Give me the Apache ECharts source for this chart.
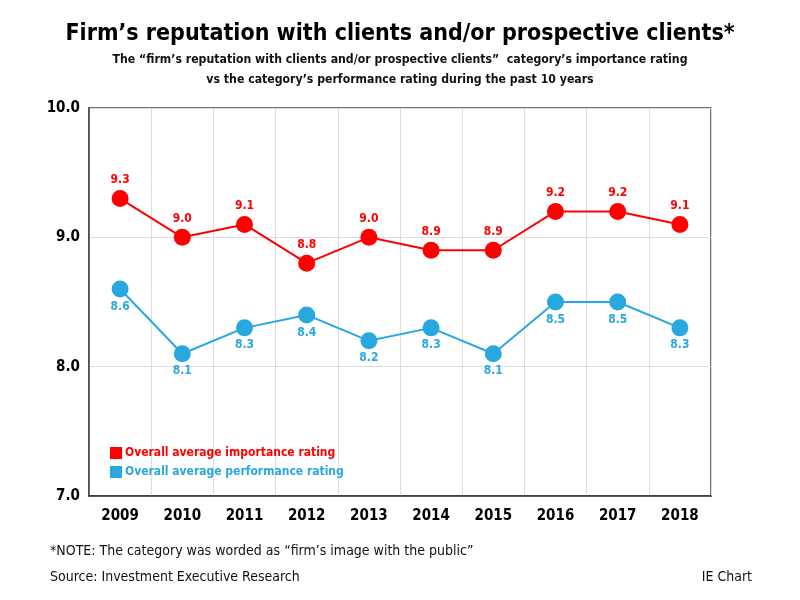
<!DOCTYPE html>
<html><head><meta charset="utf-8">
<script src="https://cdn.jsdelivr.net/npm/echarts@6/dist/echarts.min.js"></script>
<style>html,body{margin:0;padding:0;background:#fff}#c{width:800px;height:600px}</style>
</head><body><div id="c"></div>
<script>
const years = ['2009','2010','2011','2012','2013','2014','2015','2016','2017','2018'];
const importance = [9.3, 9.0, 9.1, 8.8, 9.0, 8.9, 8.9, 9.2, 9.2, 9.1];
const performance = [8.6, 8.1, 8.3, 8.4, 8.2, 8.3, 8.1, 8.5, 8.5, 8.3];
const seriesNames = ['Overall average importance rating', 'Overall average performance rating'];
const RED = '#ff0000', BLUE = '#29a8df';
const FONT = "'DejaVu Sans Condensed', 'Liberation Sans Narrow', sans-serif";

const chart = echarts.init(document.getElementById('c'));
chart.setOption({
  animation: false,
  backgroundColor: '#fff',
  textStyle: { fontFamily: FONT },
  title: [
    { text: "Firm\u2019s reputation with clients and/or prospective clients*", left: 'center', top: 18,
      textStyle: { fontFamily: FONT, fontSize: 23, fontWeight: 'bold', color: '#000' } },
    { text: "The \u201cfirm\u2019s reputation with clients and/or prospective clients\u201d  category\u2019s importance rating\nvs the category\u2019s performance rating during the past 10 years",
      left: 'center', top: 45,
      textStyle: { fontFamily: FONT, fontSize: 12.2, fontWeight: 'bold', color: '#111', lineHeight: 20, align: 'center' } },
    { text: "*NOTE: The category was worded as \u201cfirm\u2019s image with the public\u201d", left: 45, top: 539,
      textStyle: { fontFamily: FONT, fontSize: 14, fontWeight: 'normal', color: '#111' } },
    { text: "Source: Investment Executive Research", left: 45, top: 565,
      textStyle: { fontFamily: FONT, fontSize: 14, fontWeight: 'normal', color: '#111' } },
    { text: "IE Chart", right: 43, top: 565,
      textStyle: { fontFamily: FONT, fontSize: 14, fontWeight: 'normal', color: '#111' } }
  ],
  legend: {
    left: 105, top: 442, orient: 'vertical', itemGap: 7, itemWidth: 12, itemHeight: 12,
    icon: 'rect',
    data: [
      { name: seriesNames[0], textStyle: { color: RED } },
      { name: seriesNames[1], textStyle: { color: BLUE } }
    ],
    textStyle: { fontFamily: FONT, fontSize: 12, fontWeight: 'bold', padding: [0,0,0,-2] }
  },
  grid: { left: 89, right: 89, top: 108, bottom: 104, show: true, borderColor: '#444', borderWidth: 1.5 },
  xAxis: {
    type: 'category', data: years, boundaryGap: true,
    axisLine: { lineStyle: { color: '#333', width: 1.5 } },
    axisTick: { show: false },
    splitLine: { show: true, lineStyle: { color: '#ddd' } },
    axisLabel: { color: '#000', fontFamily: FONT, fontSize: 15, fontWeight: 'bold', margin: 13 }
  },
  yAxis: {
    type: 'value', min: 7, max: 10, interval: 1,
    axisLine: { show: true, lineStyle: { color: '#444', width: 1.5 } },
    axisTick: { show: false },
    splitLine: { lineStyle: { color: '#ddd' } },
    axisLabel: { color: '#000', fontFamily: FONT, fontSize: 15, fontWeight: 'bold', margin: 9,
      formatter: v => v.toFixed(1) }
  },
  series: [
    { name: seriesNames[0], type: 'line', data: importance, color: RED,
      symbol: 'circle', symbolSize: 17, lineStyle: { width: 2, color: RED },
      itemStyle: { color: RED },
      label: { show: true, position: 'top', distance: 4, color: RED, fontFamily: FONT, fontSize: 12, fontWeight: 'bold',
        formatter: p => p.value.toFixed(1) } },
    { name: seriesNames[1], type: 'line', data: performance, color: BLUE,
      symbol: 'circle', symbolSize: 17, lineStyle: { width: 2, color: BLUE },
      itemStyle: { color: BLUE },
      label: { show: true, position: 'bottom', distance: 3, color: BLUE, fontFamily: FONT, fontSize: 12, fontWeight: 'bold',
        formatter: p => p.value.toFixed(1) } }
  ]
});
</script></body></html>
